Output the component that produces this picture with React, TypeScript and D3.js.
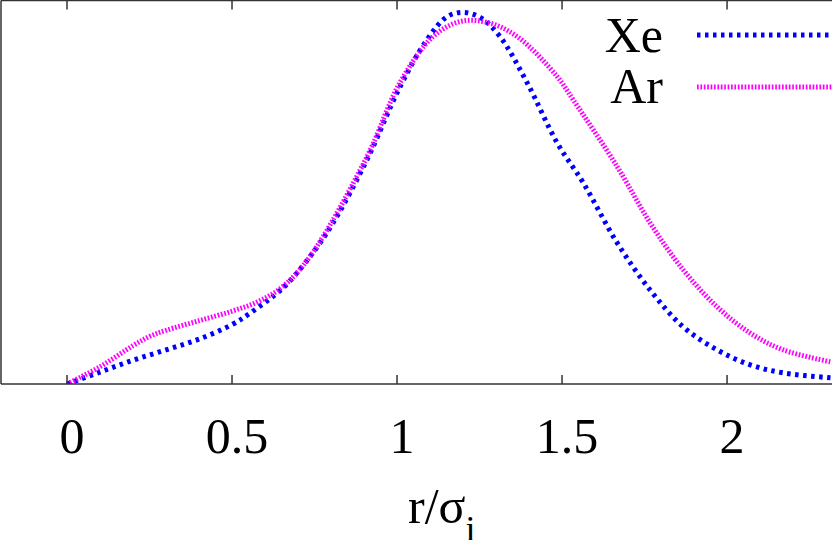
import React from 'react'
import * as d3 from 'd3'

// r / sigma_i values
const xeR = [0, 0.1, 0.2, 0.3, 0.4, 0.5, 0.555, 0.655, 0.736, 0.806, 0.909, 1.009, 1.091, 1.152, 1.2, 1.252, 1.312, 1.394, 1.485, 1.564, 1.667, 1.767, 1.867, 1.97, 2.07, 2.17, 2.318]
const xeG = [0, 0.031, 0.062, 0.089, 0.117, 0.155, 0.185, 0.251, 0.332, 0.42, 0.585, 0.775, 0.898, 0.958, 0.969, 0.956, 0.906, 0.786, 0.629, 0.525, 0.368, 0.245, 0.149, 0.089, 0.05, 0.029, 0.016]

const arR = [0, 0.1, 0.2, 0.25, 0.3, 0.4, 0.5, 0.58, 0.655, 0.736, 0.909, 1.009, 1.109, 1.191, 1.273, 1.364, 1.485, 1.533, 1.667, 1.767, 1.867, 1.97, 2.07, 2.17, 2.318]
const arG = [0, 0.045, 0.1, 0.124, 0.14, 0.165, 0.19, 0.215, 0.255, 0.332, 0.593, 0.786, 0.906, 0.945, 0.943, 0.906, 0.802, 0.742, 0.567, 0.42, 0.298, 0.201, 0.133, 0.089, 0.057]

const xTicks = [0, 0.5, 1, 1.5, 2]

const series = [
  { name: 'Xe', r: xeR, g: xeG, color: '#0000ff', dash: '3.5 4.5' },
  { name: 'Ar', r: arR, g: arG, color: '#ff00ff', dash: '1.7 1.7' }
]

const W = 832
const H = 540
const FONT = 'Liberation Serif, Times New Roman, DejaVu Serif, serif'

export default function App() {
  const left = 1, right = 832, top = 0.5, bottom = 384

  const x = d3.scaleLinear().domain([-0.2, 2.318]).range([left, right])
  const y = d3.scaleLinear().domain([0, 1]).range([bottom, top])

  const line = d3.line<[number, number]>()
    .x(d => x(d[0]))
    .y(d => y(d[1]))
    .curve(d3.curveCatmullRom.alpha(0.5))

  const fmt = (v: number) => String(v)

  return (
    <svg width={W} height={H} style={{ position: 'absolute', left: 0, top: 0, background: '#fff' }}>
      <defs>
        <clipPath id="plot">
          <rect x={left} y={top} width={right - left} height={bottom - top} />
        </clipPath>
      </defs>

      {/* curves */}
      <g clipPath="url(#plot)">
        {series.map(s => (
          <path key={s.name}
            d={line(s.r.map((r, i) => [r, s.g[i]] as [number, number])) || ''}
            fill="none" stroke={s.color} strokeWidth={5} strokeDasharray={s.dash} />
        ))}
      </g>

      {/* frame */}
      <line x1={left} x2={left} y1={top} y2={bottom} stroke="#333" strokeWidth={1.5} />
      <line x1={left} x2={right} y1={top} y2={top} stroke="#333" strokeWidth={1.5} />
      <line x1={left} x2={right} y1={bottom} y2={bottom} stroke="#333" strokeWidth={1.5} />

      {/* ticks */}
      {xTicks.map(t => (
        <g key={t}>
          <line x1={x(t)} x2={x(t)} y1={bottom} y2={bottom - 9} stroke="#333" strokeWidth={1.5} />
          <line x1={x(t)} x2={x(t)} y1={top} y2={top + 9} stroke="#333" strokeWidth={1.5} />
          <text x={x(t) + 5} y={453} fontSize={50} fontFamily={FONT} textAnchor="middle" fill="#000">{fmt(t)}</text>
        </g>
      ))}

      {/* x label */}
      <text x={408} y={523} fontSize={50} fontFamily={FONT} fill="#000">
        r/σ<tspan fontSize={36} dy={18}>i</tspan>
      </text>

      {/* legend */}
      {series.map((s, i) => (
        <g key={s.name}>
          <text x={663} y={52 + i * 51} fontSize={50} fontFamily={FONT} textAnchor="end" fill="#000">{s.name}</text>
          <line x1={697} x2={832} y1={35 + i * 52} y2={35 + i * 52}
            stroke={s.color} strokeWidth={5} strokeDasharray={s.dash} />
        </g>
      ))}
    </svg>
  )
}
